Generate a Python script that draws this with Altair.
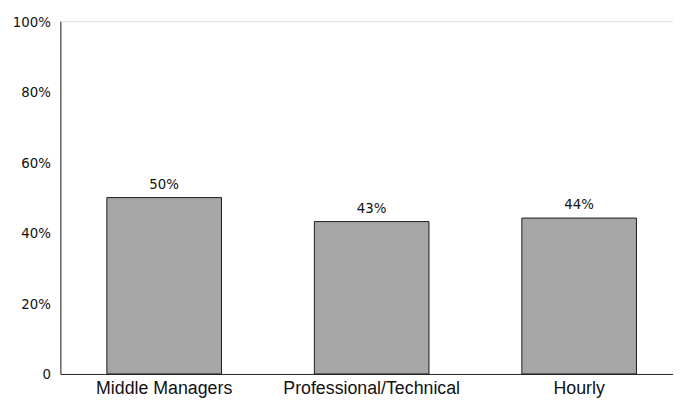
import altair as alt
import pandas as pd

categories = ["Middle Managers", "Professional/Technical", "Hourly"]
values = [0.50, 0.432, 0.442]
y_ticks = [0, 0.2, 0.4, 0.6, 0.8, 1.0]

df = pd.DataFrame({"category": categories, "value": values})

narrow = "DejaVu Sans Condensed"
regular = "Liberation Sans"

x = alt.X(
    "category:N",
    sort=categories,
    title=None,
    scale=alt.Scale(paddingInner=0.4476, paddingOuter=0.2, align=0.56),
    axis=alt.Axis(
        labelAngle=0,
        ticks=False,
        tickSize=0,
        labelPadding=6,
        labelFont=regular,
        labelFontSize=18,
        labelColor="#111111",
        domainColor="#262626",
        domainWidth=1,
        grid=False,
    ),
)
y = alt.Y(
    "value:Q",
    title=None,
    scale=alt.Scale(domain=[0, 1], nice=False),
    axis=alt.Axis(
        values=y_ticks,
        labelExpr="datum.value == 0 ? '0' : format(datum.value, '.0%')",
        ticks=False,
        tickSize=0,
        labelPadding=10,
        labelFont=narrow,
        labelFontSize=15,
        labelColor="#111111",
        domainColor="#262626",
        domainWidth=1,
        grid=False,
    ),
)

bars = alt.Chart(df).mark_bar(
    fill="#a6a6a6", stroke="#1a1a1a", strokeWidth=1
).encode(x=x, y=y)

labels = alt.Chart(df).mark_text(
    baseline="bottom", dy=-6, font=narrow, fontSize=15, color="#111111"
).encode(
    x=alt.X("category:N", sort=categories),
    y=alt.Y("value:Q"),
    text=alt.Text("value:Q", format=".0%"),
)

chart = (
    alt.layer(bars, labels)
    .properties(
        width=620,
        height=357,
        autosize=alt.AutoSizeParams(type="none"),
        padding={"left": 53, "top": 11, "right": 0, "bottom": 26},
    )
    .configure_view(stroke=None)
    .configure(background="white")
)

chart.save("out.html", embed_options={"renderer": "svg", "actions": False})
